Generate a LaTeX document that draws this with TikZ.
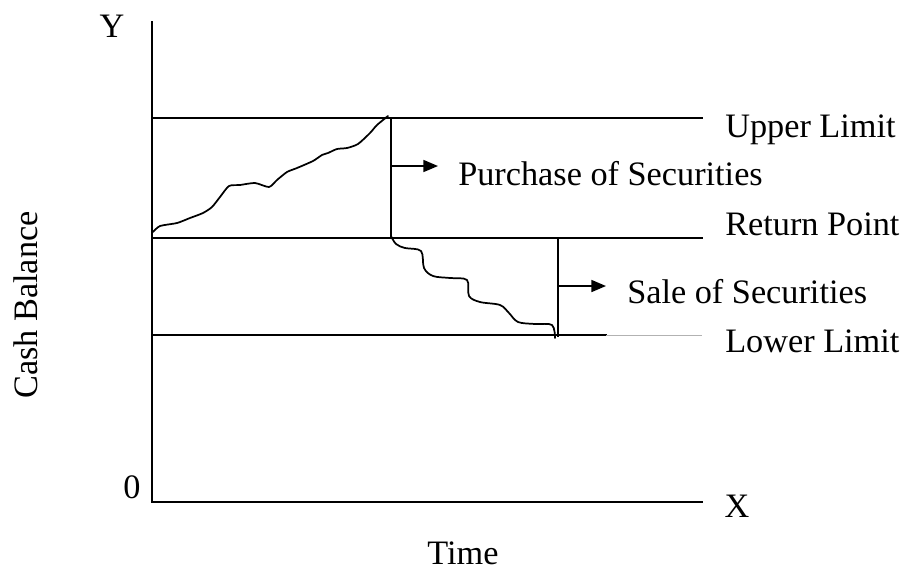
\documentclass[tikz,border=0pt]{standalone}
\usepackage{fontspec}
\setmainfont{Liberation Serif}
\usetikzlibrary{arrows.meta}
\begin{document}
\begin{tikzpicture}[x=0.75pt,y=-0.75pt,
  ln/.style={line width=1.3pt,line cap=rect},
  crv/.style={line width=1.3pt,line join=round,line cap=round},
  arr/.style={line width=1.3pt,-{Triangle[length=11pt,width=9pt]}},
  lbl/.style={inner sep=0pt,anchor=base west,font=\fontsize{25.7}{30}\selectfont},
  ax/.style={inner sep=0pt,anchor=base,font=\fontsize{25.7}{30}\selectfont}]
\path[use as bounding box] (0,0) rectangle (902,571);
% axes
\coordinate (O) at (152,502);
\coordinate (Ytop) at (152,22);
\coordinate (Xend) at (702,502);
\draw[ln] (Ytop) -- (O) -- (Xend);
% limit lines
\coordinate (U0) at (152,118); \coordinate (U1) at (702,118);
\coordinate (R0) at (152,238); \coordinate (R1) at (702,238);
\coordinate (L0) at (152,335); \coordinate (L1) at (606,335); \coordinate (L2) at (702,335);
\draw[ln] (U0) -- (U1);
\draw[ln] (R0) -- (R1);
\draw[ln] (L0) -- (L1);
\draw[line width=0.6pt,black!30] (L1) -- (L2);
% verticals
\coordinate (P0) at (391,118); \coordinate (P1) at (391,238);
\coordinate (S0) at (558,238); \coordinate (S1) at (558,336);
\draw[ln] (P0) -- (P1);
\draw[ln] (S0) -- (S1);
% arrows
\coordinate (PA0) at (391,166); \coordinate (PA1) at (438,166);
\coordinate (SA0) at (558,286); \coordinate (SA1) at (606,286);
\draw[arr] (PA0) -- (PA1);
\draw[arr] (SA0) -- (SA1);
% rising cash curve
\draw[crv] plot[smooth,tension=0.4] coordinates {
 (153,232) (160,226) (177,223) (190,218) (203,213) (212,207) (220,197)
 (229,186) (240,185) (255,183) (269,187) (277,180) (287,172) (297,168)
 (313,161) (322,155) (328,153) (337,149) (347,148) (358,144) (370,133)
 (377,125) (388,116)};
% falling cash curve
\draw[crv] plot[smooth,tension=0.55] coordinates {
 (391,236) (396,244) (405,248) (421,251) (424,268) (433,276) (450,278)
 (467,280) (469,296) (480,302) (500,305) (509,313) (518,322) (535,324)
 (552,325) (555,338)};
% labels
\node[ax] (ylab) at (112,37) {Y};
\node[ax] (zero) at (132,498) {0};
\node[ax] (xlab) at (737,517) {X};
\node[ax] (time) at (463,564) {Time};
\node[inner sep=0pt,font=\fontsize{25.7}{30}\selectfont,rotate=90] (cash) at (26,305) {Cash Balance};
\node[lbl] (upper) at (725,137) {Upper Limit};
\node[lbl] (ret) at (725,235) {Return Point};
\node[lbl] (lower) at (725,352) {Lower Limit};
\node[lbl] (purch) at (458,185) {Purchase of Securities};
\node[lbl] (sale) at (627,303) {Sale of Securities};
\end{tikzpicture}
\end{document}
